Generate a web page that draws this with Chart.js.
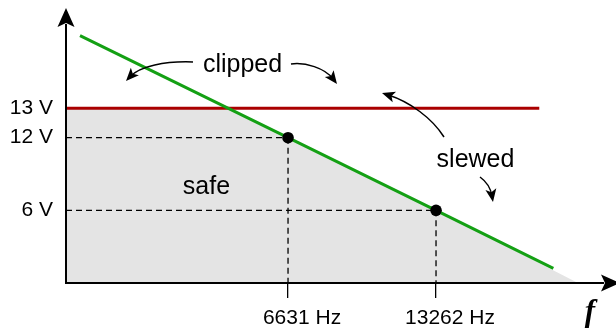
<!DOCTYPE html>
<html><head><meta charset="utf-8">
<script src="https://cdn.jsdelivr.net/npm/chart.js@4/dist/chart.umd.min.js"></script>
<style>html,body{margin:0;padding:0;background:#fff}#wrap{width:616px;height:330px;position:relative}</style>
</head><body><div id="wrap"><canvas id="c" width="616" height="330"></canvas></div>
<script>
// ---- data ----
const markFreqs = [6631, 13262];          // Hz, the two marked points
const markVolts = [12, 6];                // V
const clipVolts = 13;                     // supply clipping level, V
const slewFreqs = [2503, 6631, 13262, 22975];
const slewVolts = [15.46, 12, 6, 1.2];
const railFreqs = [2344, 21510];
const safeFreqs = [2344, 5020, 6631, 13262, 25800];
const safeVolts = [13, 13, 12, 6, 0];
const xTickValues = [6631, 13262];
const yTickValues = [6, 12, 13];
const xUnit = 'Hz';
const yUnit = 'V';
const regionLabels = ['clipped', 'slewed', 'safe'];
const xAxisName = 'f';

// ---- scale ranges (layout) ----
const xMin = 2344, xMax = 30810;
const yBreakValues = [0, 12, 16.4];
const yBreakFractions = [0, 0.5284, 1];

class PiecewiseScale extends Chart.LinearScale {
  getPixelForValue(value) {
    const v = yBreakValues, fr = yBreakFractions;
    let i = 1;
    while (i < v.length - 1 && value > v[i]) i++;
    const t = (value - v[i - 1]) / (v[i] - v[i - 1]);
    const f = fr[i - 1] + t * (fr[i] - fr[i - 1]);
    return this.bottom - f * (this.bottom - this.top);
  }
  getValueForPixel(pixel) {
    const v = yBreakValues, fr = yBreakFractions;
    const f = (this.bottom - pixel) / (this.bottom - this.top);
    let i = 1;
    while (i < fr.length - 1 && f > fr[i]) i++;
    const t = (f - fr[i - 1]) / (fr[i] - fr[i - 1]);
    return v[i - 1] + t * (v[i] - v[i - 1]);
  }
}
PiecewiseScale.id = 'piecewise';
PiecewiseScale.defaults = Chart.LinearScale.defaults;
Chart.register(PiecewiseScale);

const pts = (xs, ys) => xs.map((x, i) => ({x: x, y: ys[i]}));
const FONT = "'Liberation Sans', Arial, sans-serif";

const decor = {
  id: 'decor',
  afterDatasetsDraw(chart) {
    const ctx = chart.ctx, a = chart.chartArea;
    ctx.save();
    ctx.fillStyle = '#000'; ctx.strokeStyle = '#000';
    // axes
    ctx.lineWidth = 2;
    ctx.beginPath();
    ctx.moveTo(a.left, a.bottom); ctx.lineTo(a.left, a.top + 16);
    ctx.moveTo(a.left - 1, a.bottom); ctx.lineTo(a.right - 12, a.bottom);
    ctx.stroke();
    head(ctx, a.left, a.top, -Math.PI / 2, 19, 8.5, 4);
    head(ctx, a.right + 4, a.bottom, 0, 19, 8.5, 4);
    // region labels
    ctx.font = '25px ' + FONT;
    ctx.textAlign = 'center'; ctx.textBaseline = 'alphabetic';
    ctx.fillText(regionLabels[0], 242.5, 72);
    ctx.fillText(regionLabels[1], 475.5, 167);
    ctx.fillText(regionLabels[2], 206.5, 194);
    // axis name
    ctx.font = "italic bold 31px 'Liberation Serif', 'Times New Roman', serif";
    ctx.fillText(xAxisName, 590, 321);
    // curved arrows
    ctx.lineWidth = 1.5;
    curve(ctx, [193, 62], [165, 61], [140, 66], [126, 81]);
    curve(ctx, [291, 64], [305, 62], [325, 68], [337, 84]);
    curve(ctx, [444, 137], [432, 118], [410, 102], [382, 93]);
    curve(ctx, [480, 177], [487, 182], [491, 190], [493, 202]);
    ctx.restore();
  }
};
function head(ctx, x, y, ang, len, hw, notch) {
  const dx = Math.cos(ang), dy = Math.sin(ang);
  const px = -dy, py = dx;
  ctx.beginPath();
  ctx.moveTo(x, y);
  ctx.lineTo(x - len * dx + hw * px, y - len * dy + hw * py);
  ctx.lineTo(x - (len - notch) * dx, y - (len - notch) * dy);
  ctx.lineTo(x - len * dx - hw * px, y - len * dy - hw * py);
  ctx.closePath();
  ctx.fill();
}
function curve(ctx, s, c1, c2, e) {
  const ang = Math.atan2(e[1] - c2[1], e[0] - c2[0]);
  ctx.beginPath();
  ctx.moveTo(s[0], s[1]);
  ctx.bezierCurveTo(c1[0], c1[1], c2[0], c2[1], e[0] - 6 * Math.cos(ang), e[1] - 6 * Math.sin(ang));
  ctx.stroke();
  head(ctx, e[0], e[1], ang, 13, 5.5, 3);
}

const dashStyle = {showLine: true, borderColor: '#000', borderWidth: 1.3, borderDash: [6, 4], pointRadius: 0, fill: false};

new Chart(document.getElementById('c'), {
  type: 'scatter',
  data: {
    datasets: [
      {data: pts(markFreqs, markVolts), showLine: false, pointRadius: 5.8, pointHoverRadius: 5.8, pointBackgroundColor: '#000', pointBorderWidth: 0},
      {data: pts(slewFreqs, slewVolts), showLine: true, borderColor: '#14a014', borderWidth: 3, pointRadius: 0},
      {data: pts(railFreqs, [clipVolts, clipVolts]), showLine: true, borderColor: '#aa0000', borderWidth: 3, pointRadius: 0},
      Object.assign({data: pts([xMin, markFreqs[0]], [markVolts[0], markVolts[0]])}, dashStyle),
      Object.assign({data: pts([markFreqs[0], markFreqs[0]], [markVolts[0], 0])}, dashStyle),
      Object.assign({data: pts([xMin, markFreqs[1]], [markVolts[1], markVolts[1]])}, dashStyle),
      Object.assign({data: pts([markFreqs[1], markFreqs[1]], [markVolts[1], 0])}, dashStyle),
      {data: pts(safeFreqs, safeVolts), showLine: true, borderWidth: 0, borderColor: 'rgba(0,0,0,0)', pointRadius: 0, fill: 'origin', backgroundColor: '#e4e4e4'}
    ]
  },
  options: {
    responsive: false, animation: false, events: [], devicePixelRatio: 1,
    layout: {autoPadding: false, padding: {top: 8, right: 0, left: 0, bottom: 0}},
    plugins: {legend: {display: false}, tooltip: {enabled: false}},
    scales: {
      x: {
        type: 'logarithmic', min: xMin, max: xMax, bounds: 'data',
        border: {display: false},
        grid: {display: true, drawOnChartArea: false, drawTicks: true, tickLength: 15, color: '#000', lineWidth: 1.3},
        ticks: {font: {family: FONT, size: 21}, color: '#000', padding: 8, labelOffset: 14, autoSkip: false, maxRotation: 0,
                callback: v => v + ' ' + xUnit},
        afterBuildTicks: s => { s.ticks = xTickValues.map(v => ({value: v})); },
        afterFit: s => { s.height = 47; s.paddingLeft = 0; s.paddingRight = 0; }
      },
      y: {
        type: 'piecewise', min: yBreakValues[0], max: yBreakValues[yBreakValues.length - 1], bounds: 'data',
        border: {display: false},
        grid: {display: false, drawTicks: false, tickLength: 0},
        ticks: {font: {family: FONT, size: 21}, color: '#000', padding: 13, autoSkip: false,
                callback: v => v + ' ' + yUnit},
        afterBuildTicks: s => { s.ticks = yTickValues.map(v => ({value: v})); },
        afterFit: s => { s.width = 66; s.paddingTop = 0; s.paddingBottom = 0; }
      }
    }
  },
  plugins: [decor]
});
</script></body></html>
